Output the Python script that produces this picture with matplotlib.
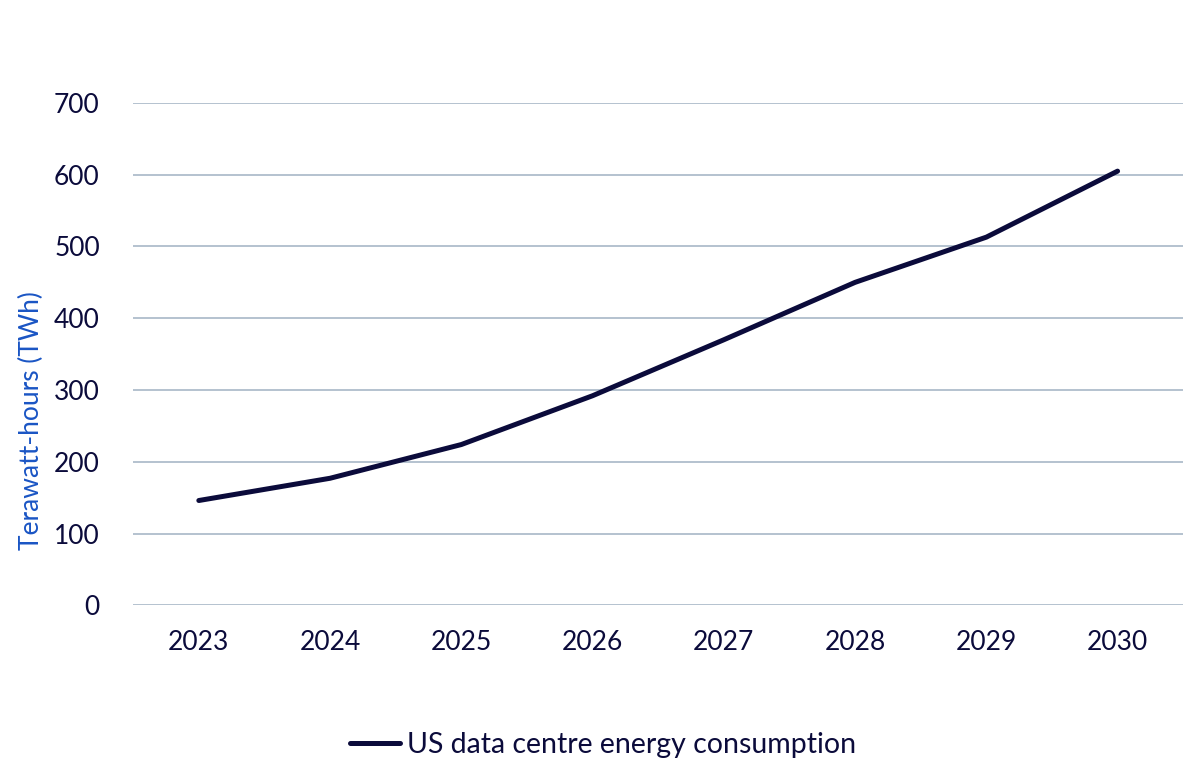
import matplotlib.pyplot as plt
from matplotlib.lines import Line2D

years = ['2023', '2024', '2025', '2026', '2027', '2028', '2029', '2030']
consumption_twh = [146, 177, 224, 292, 370, 450, 513, 605]
y_ticks = [0, 100, 200, 300, 400, 500, 600, 700]

navy = '#0b0b3b'
grid_col = '#b4c2cf'
blue = '#1a55c4'

plt.rcParams['font.family'] = ['Lato', 'DejaVu Sans']

fig = plt.figure(figsize=(12, 7.8), dpi=100)
ax = fig.add_axes([0.111, 0.224, 0.875, 0.644])

x = list(range(len(years)))
ax.plot(x, consumption_twh, color=navy, linewidth=3.6, solid_capstyle='round',
        solid_joinstyle='round', zorder=3)

ax.set_xlim(-0.5, len(years) - 0.5)
ax.set_ylim(0, 700)
ax.set_xticks(x)
ax.set_xticklabels(years)
ax.set_yticks(y_ticks)
ax.grid(True, axis='y', color=grid_col, linewidth=1.4)
ax.set_axisbelow(True)
for s in ax.spines.values():
    s.set_visible(False)
ax.tick_params(axis='both', length=0, labelsize=19, colors=navy)
ax.tick_params(axis='y', pad=24)
ax.tick_params(axis='x', pad=18)
ax.set_ylabel('Terawatt-hours (TWh)', fontsize=19, color=blue)
# label sits lower than the axes centre in the original
ax.yaxis.set_label_coords(-0.085, 0.368)

handle = Line2D([0], [0], color=navy, linewidth=3.6, solid_capstyle='round')
fig.legend([handle], ['US data centre energy consumption'], loc='center',
           bbox_to_anchor=(0.5025, 0.045), frameon=False, fontsize=20.5,
           handlelength=1.75, handletextpad=0.25, labelcolor=navy)

fig.savefig('out.png', dpi=100)
